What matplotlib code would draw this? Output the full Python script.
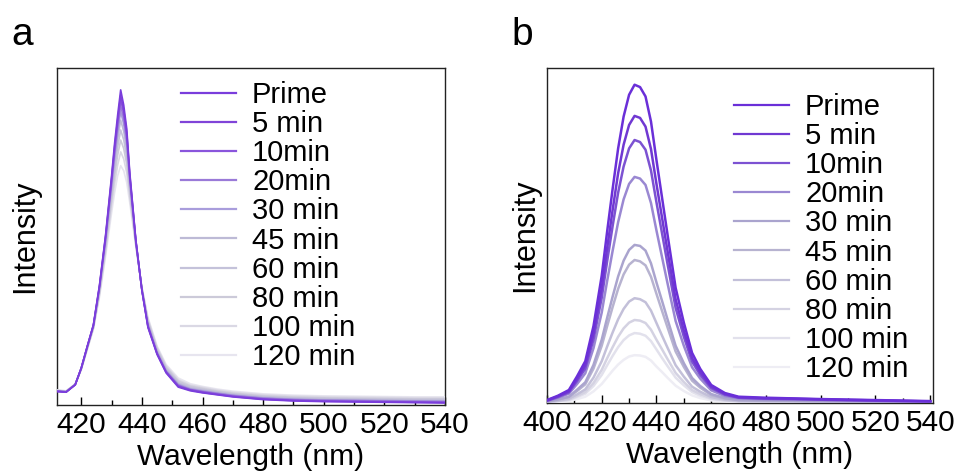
import matplotlib.pyplot as plt
from matplotlib.ticker import MultipleLocator

plt.rcParams['font.family'] = ['Liberation Sans', 'DejaVu Sans']

labels = ["Prime", "5 min", "10min", "20min", "30 min",
          "45 min", "60 min", "80 min", "100 min", "120 min"]

# ---- panel a: intensity (arb. units) ----
wl_a = [412, 415, 418, 420, 422, 424, 426, 428, 430, 431, 432, 433, 434, 435, 436,
        438, 440, 442, 445, 448, 452, 456, 460, 465, 470, 480, 490, 500, 510, 520, 530, 540]
a_prime = [4.0, 3.8, 6.0, 11.0, 17.5, 23.8, 35.5, 50.3, 68.0, 77.7, 86.0, 93.5, 89.0, 82.0, 69.0,
           49.0, 34.0, 23.0, 15.0, 9.5, 5.3, 4.2, 3.6, 3.0, 2.4, 1.6, 1.2, 1.0, 0.9, 0.8, 0.7, 0.6]
a_5 = [4.0, 3.8, 6.0, 11.0, 17.4, 23.7, 35.3, 49.9, 67.2, 76.7, 84.7, 91.9, 87.6, 80.9, 68.4,
       48.9, 34.1, 23.2, 15.2, 9.7, 5.5, 4.4, 3.7, 3.1, 2.5, 1.7, 1.3, 1.1, 1.0, 0.9, 0.8, 0.7]
a_10 = [4.1, 3.9, 6.0, 10.9, 17.4, 23.6, 35.0, 49.5, 66.6, 75.8, 83.7, 90.6, 86.5, 79.9, 67.8,
        48.7, 34.1, 23.4, 15.3, 9.8, 5.7, 4.5, 3.9, 3.2, 2.6, 1.8, 1.4, 1.2, 1.1, 1.0, 0.9, 0.8]
a_20 = [4.1, 3.9, 6.0, 10.9, 17.3, 23.5, 34.8, 49.0, 65.7, 74.6, 82.2, 88.8, 84.9, 78.6, 67.1,
        48.6, 34.2, 23.6, 15.5, 10.0, 5.9, 4.6, 4.0, 3.4, 2.8, 2.0, 1.6, 1.4, 1.3, 1.2, 1.1, 1.0]
a_30 = [4.2, 3.9, 6.1, 10.9, 17.2, 23.4, 34.5, 48.5, 64.8, 73.4, 80.8, 87.0, 83.3, 77.4, 66.4,
        48.4, 34.3, 23.9, 15.7, 10.2, 6.1, 4.8, 4.2, 3.5, 2.9, 2.1, 1.7, 1.5, 1.4, 1.3, 1.2, 1.1]
a_45 = [4.2, 4.0, 6.1, 10.8, 17.1, 23.3, 34.1, 47.8, 63.6, 71.8, 78.8, 84.5, 81.2, 75.6, 65.4,
        48.2, 34.4, 24.2, 16.0, 10.5, 6.4, 5.0, 4.4, 3.7, 3.1, 2.3, 1.9, 1.7, 1.6, 1.5, 1.4, 1.3]
a_60 = [4.3, 4.0, 6.1, 10.7, 17.0, 23.1, 33.6, 47.0, 62.2, 69.9, 76.5, 81.6, 78.7, 73.5, 64.2,
        47.9, 34.5, 24.6, 16.3, 10.8, 6.7, 5.3, 4.6, 3.9, 3.3, 2.5, 2.1, 1.9, 1.8, 1.7, 1.6, 1.6]
a_80 = [4.3, 4.1, 6.1, 10.7, 16.8, 22.9, 33.2, 46.1, 60.7, 68.0, 74.1, 78.6, 76.1, 71.4, 63.1,
        47.7, 34.7, 25.0, 16.7, 11.2, 7.1, 5.6, 4.9, 4.1, 3.5, 2.7, 2.3, 2.1, 2.0, 1.9, 1.8, 1.8]
a_100 = [4.4, 4.1, 6.2, 10.6, 16.7, 22.7, 32.6, 45.1, 59.0, 65.6, 71.2, 75.1, 73.0, 68.9, 61.6,
         47.4, 34.8, 25.5, 17.1, 11.6, 7.5, 5.9, 5.2, 4.4, 3.8, 3.0, 2.6, 2.4, 2.3, 2.2, 2.1, 2.1]
a_120 = [4.5, 4.2, 6.2, 10.5, 16.5, 22.5, 32.0, 44.0, 57.0, 63.0, 68.0, 71.0, 69.5, 66.0, 60.0,
         47.0, 35.0, 26.0, 17.5, 12.0, 8.0, 6.3, 5.5, 4.7, 4.1, 3.3, 2.9, 2.7, 2.6, 2.5, 2.4, 2.4]
series_a = [a_prime, a_5, a_10, a_20, a_30, a_45, a_60, a_80, a_100, a_120]
colors_a = ["#7a3ddc", "#8044d8", "#8a55dc", "#9a7ad8", "#a99ddc",
            "#bdbad6", "#c4c2da", "#cccad9", "#dad8e4", "#e7e5ef"]

# ---- panel b ----
wl_b = [400, 404, 408, 411, 414, 417, 420, 422, 424, 426, 428, 430, 432, 434, 436, 438,
        440, 442, 444, 447, 450, 453, 456, 460, 465, 470, 480, 490, 500, 520, 540]
b_prime = [0.9, 2.2, 3.9, 8.0, 12.5, 23.0, 38.0, 51.3, 64.0, 76.0, 85.5, 92.0, 95.0, 94.3, 91.5, 84.0,
           72.5, 61.5, 50.5, 34.4, 24.0, 15.0, 10.2, 5.4, 3.0, 1.9, 1.6, 1.4, 1.2, 0.9, 0.6]
b_5 = [0.8, 2.0, 3.5, 7.2, 11.3, 20.7, 34.3, 46.3, 57.7, 68.6, 77.1, 83.0, 85.7, 85.1, 82.5, 75.8,
       65.4, 55.5, 45.6, 31.0, 21.6, 13.5, 9.2, 4.9, 2.7, 1.7, 1.4, 1.3, 1.1, 0.8, 0.5]
b_10 = [0.7, 1.8, 3.2, 6.6, 10.3, 19.0, 31.4, 42.4, 52.9, 62.8, 70.6, 76.0, 78.5, 77.9, 75.6, 69.4,
        59.9, 50.8, 41.7, 28.4, 19.8, 12.4, 8.4, 4.5, 2.5, 1.6, 1.3, 1.2, 1.0, 0.7, 0.5]
b_20 = [0.6, 1.6, 2.8, 5.7, 8.9, 16.4, 27.0, 36.5, 45.5, 54.0, 60.8, 65.4, 67.5, 67.0, 65.1, 59.7,
        51.5, 43.7, 35.9, 24.5, 17.1, 10.7, 7.3, 3.8, 2.1, 1.4, 1.1, 1.0, 0.9, 0.6, 0.4]
b_30 = [0.4, 1.1, 1.9, 4.0, 6.2, 11.4, 18.9, 25.5, 31.8, 37.8, 42.5, 45.7, 47.2, 46.9, 45.5, 41.7,
        36.0, 30.6, 25.1, 17.1, 11.9, 7.5, 5.1, 2.7, 1.5, 0.9, 0.8, 0.7, 0.6, 0.4, 0.3]
b_45 = [0.4, 1.0, 1.8, 3.6, 5.6, 10.3, 17.1, 23.0, 28.7, 34.1, 38.4, 41.3, 42.7, 42.3, 41.1, 37.7,
        32.6, 27.6, 22.7, 15.4, 10.8, 6.7, 4.6, 2.4, 1.3, 0.9, 0.7, 0.6, 0.5, 0.4, 0.3]
b_60 = [0.3, 0.7, 1.3, 2.6, 4.1, 7.6, 12.5, 16.9, 21.1, 25.0, 28.1, 30.3, 31.3, 31.0, 30.1, 27.6,
        23.9, 20.2, 16.6, 11.3, 7.9, 4.9, 3.4, 1.8, 1.0, 0.6, 0.5, 0.5, 0.4, 0.3, 0.2]
b_80 = [0.2, 0.6, 1.0, 2.1, 3.3, 6.0, 9.9, 13.4, 16.7, 19.8, 22.3, 24.0, 24.8, 24.6, 23.9, 21.9,
        18.9, 16.1, 13.2, 9.0, 6.3, 3.9, 2.7, 1.4, 0.8, 0.5, 0.4, 0.4, 0.3, 0.2, 0.2]
b_100 = [0.2, 0.5, 0.9, 1.8, 2.8, 5.1, 8.4, 11.3, 14.1, 16.7, 18.8, 20.2, 20.9, 20.7, 20.1, 18.5,
         16.0, 13.5, 11.1, 7.6, 5.3, 3.3, 2.2, 1.2, 0.7, 0.4, 0.4, 0.3, 0.3, 0.2, 0.1]
b_120 = [0.1, 0.3, 0.6, 1.2, 1.9, 3.5, 5.7, 7.7, 9.7, 11.5, 12.9, 13.9, 14.3, 14.2, 13.8, 12.7,
         10.9, 9.3, 7.6, 5.2, 3.6, 2.3, 1.5, 0.8, 0.5, 0.3, 0.2, 0.2, 0.2, 0.1, 0.1]
series_b = [b_prime, b_5, b_10, b_20, b_30, b_45, b_60, b_80, b_100, b_120]
colors_b = ["#6a2fd8", "#7038d2", "#7c52d2", "#9a88d2", "#aaa4ce",
            "#b7b3d0", "#c3c0d9", "#d4d2e2", "#e2e1ec", "#eeedf4"]

fig = plt.figure(figsize=(9.65, 4.72), dpi=100)
ax_a = fig.add_axes([0.0591, 0.142, 0.402, 0.714])
ax_b = fig.add_axes([0.5668, 0.146, 0.400, 0.710])

panels = [
    (ax_a, wl_a, series_a, colors_a, (412, 540), 1.2, (0.32, 0.962), 12),
    (ax_b, wl_b, series_b, colors_b, (400, 541), 1.8, (0.485, 0.926), 5),
]

for ax, wl, series, colors, xlim, lw, anchor, ypad in panels:
    for i, (vals, lab, c) in enumerate(zip(series, labels, colors)):
        ax.plot(wl, vals, color=c, lw=lw, label=lab, zorder=20 - i)
    ax.set_xlim(*xlim)
    ax.set_ylim(0, 100)
    ax.xaxis.set_major_locator(MultipleLocator(20))
    ax.xaxis.set_minor_locator(MultipleLocator(10))
    ax.tick_params(axis='x', which='major', direction='in', length=6, width=1,
                   labelsize=21.5, pad=4)
    ax.tick_params(axis='x', which='minor', direction='in', length=3.5, width=1)
    ax.tick_params(axis='y', left=False, labelleft=False)
    for sp in ax.spines.values():
        sp.set_color('#222222')
        sp.set_linewidth(1)
    ax.set_xlabel("Wavelength (nm)", fontsize=21.5, labelpad=3)
    ax.set_ylabel("Intensity", fontsize=22, labelpad=ypad)
    leg = ax.legend(loc='upper left', bbox_to_anchor=anchor, frameon=False,
                    fontsize=21, handlelength=1.88, handletextpad=0.55,
                    labelspacing=0.04, borderpad=0, borderaxespad=0)
    for line in leg.get_lines():
        line.set_linewidth(1.6)

fig.text(0.012, 0.905, "a", fontsize=28)
fig.text(0.530, 0.905, "b", fontsize=28)

fig.savefig("out.png", dpi=100)
